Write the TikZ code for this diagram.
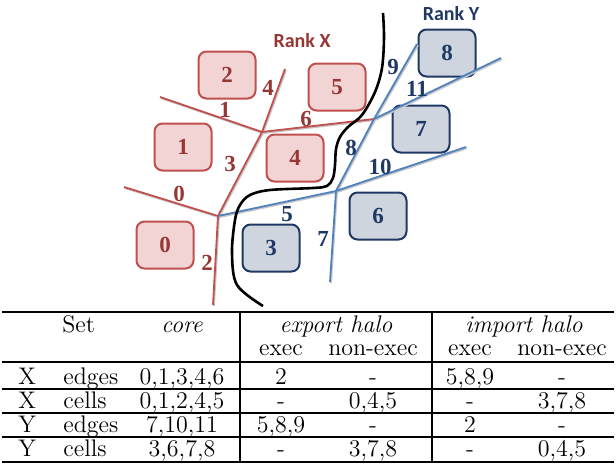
\documentclass[tikz,border=0pt]{standalone}
\usepackage{fontspec}
\newfontfamily\numfont{Liberation Serif}
\newfontfamily\rankfont{Carlito}
\definecolor{xfill}{RGB}{242,212,212}
\definecolor{xborder}{RGB}{192,80,77}
\definecolor{xtext}{RGB}{149,55,53}
\definecolor{yfill}{RGB}{206,213,223}
\definecolor{yborder}{RGB}{31,56,100}
\definecolor{ytext}{RGB}{31,56,100}
\definecolor{yline}{RGB}{79,129,189}
\tikzset{
  cellX/.style={draw=xborder, fill=xfill, line width=1pt, rounded corners=4pt,
    minimum width=28.5pt, minimum height=23.5pt, inner sep=0pt,
    font=\numfont\bfseries\fontsize{11.5}{11.5}\selectfont, text=xtext},
  cellY/.style={cellX, draw=yborder, fill=yfill, text=ytext},
  edgeX/.style={draw=xborder, line width=0.9pt,
    preaction={draw=black!22, line width=0.9pt, transform canvas={shift={(0.5pt,-0.6pt)}}}},
  edgeY/.style={edgeX, draw=yline},
  elabX/.style={font=\numfont\bfseries\fontsize{11.5}{11.5}\selectfont, text=xtext, inner sep=0pt},
  elabY/.style={elabX, text=ytext},
  rank/.style={font=\rankfont\bfseries\fontsize{10}{10}\selectfont, inner sep=0pt},
  tb/.style={font=\fontsize{12}{12}\selectfont, inner sep=0pt, anchor=base},
  tbl/.style={tb, anchor=base west},
  rule/.style={line width=0.6pt},
  thickrule/.style={line width=1pt},
}
\begin{document}
\begin{tikzpicture}[x=0.5pt,y=-0.5pt]
\useasboundingbox (0,0) rectangle (616,466);

% cells
\node[cellX] (c2) at (227,75) {2};
\node[cellX] (c1) at (183,147) {1};
\node[cellX] (c4) at (295,158) {4};
\node[cellX] (c5) at (337,87) {5};
\node[cellX] (c0) at (165,245) {0};
\node[cellY] (c3) at (271,248) {3};
\node[cellY] (c6) at (378,216) {6};
\node[cellY] (c7) at (421,129) {7};
\node[cellY] (c8) at (447,53) {8};

% vertices
\coordinate (A) at (262,132);
\coordinate (B) at (374,119);
\coordinate (C) at (218,216);
\coordinate (D) at (336,191);
\coordinate (e1) at (160,97);
\coordinate (e4) at (285,69);
\coordinate (e0) at (124,187);
\coordinate (e2) at (213,305);
\coordinate (e7) at (330,282);
\coordinate (e9) at (417,44);
\coordinate (e11) at (501,58);
\coordinate (e10) at (466,147);

% red edges
\draw[edgeX] (e1) -- (A);
\draw[edgeX] (A) -- (e4);
\draw[edgeX] (A) -- (B);
\draw[edgeX] (A) -- (C);
\draw[edgeX] (e0) -- (C);
\draw[edgeX] (C) -- (e2);
% blue edges
\draw[edgeY] (C) -- (D);
\draw[edgeY] (D) -- (e7);
\draw[edgeY] (D) -- (B);
\draw[edgeY] (B) -- (e9);
\draw[edgeY] (B) -- (e11);
\draw[edgeY] (D) -- (e10);

% partition curve
\draw[line width=1.3pt] plot[smooth, tension=0.55] coordinates {
  (383,13) (384,38) (382,68) (375,92) (362,115) (348,127) (340,137)
  (336,149) (335,165) (333,178) (327,186) (313,188) (270,190) (250,195)
  (240,205) (235,220) (232,253) (237,285) (263,306)};

% edge labels
\node[elabX] (l1) at (225,110) {1};
\node[elabX] (l4) at (268,88) {4};
\node[elabX] (l6) at (306,119) {6};
\node[elabX] (l3) at (230,164) {3};
\node[elabX] (l0) at (179,194) {0};
\node[elabX] (l2) at (207,263) {2};
\node[elabY] (l5) at (287,214) {5};
\node[elabY] (l7) at (323,239) {7};
\node[elabY] (l8) at (351,148) {8};
\node[elabY] (l9) at (393,67) {9};
\node[elabY] (l11) at (417,89) {11};
\node[elabY] (l10) at (380,167) {10};

\node[rank, text=xtext] (rx) at (302,41) {Rank X};
\node[rank, text=ytext] (ry) at (451,14) {Rank Y};

% table rules
\draw[thickrule] (2,312) -- (614,312);
\draw[rule] (2,362) -- (614,362);
\draw[rule] (2,389) -- (614,389);
\draw[rule] (2,413) -- (614,413);
\draw[rule] (2,437) -- (614,437);
\draw[thickrule] (2,462) -- (614,462);
\draw[rule] (240,312) -- (240,462);
\draw[rule] (432,312) -- (432,462);

% header
\node[tbl] (hset) at (62,332) {Set};
\node[tb] (hcore) at (182,332) {\itshape core};
\node[tb] (hexp) at (336,332) {\itshape export halo};
\node[tb] (himp) at (524,332) {\itshape import halo};
\node[tb] (h1) at (281,355) {exec};
\node[tb] (h2) at (373,355) {non-exec};
\node[tb] (h3) at (470,355) {exec};
\node[tb] (h4) at (562,355) {non-exec};

% rows
\node[tbl] at (18,384) {X};
\node[tbl] at (63,384) {edges};
\node[tb] at (182,384) {0,1,3,4,6};
\node[tb] at (281,384) {2};
\node[tb] at (373,384) {-};
\node[tb] at (470,384) {5,8,9};
\node[tb] at (562,384) {-};

\node[tbl] at (18,408) {X};
\node[tbl] at (63,408) {cells};
\node[tb] at (182,408) {0,1,2,4,5};
\node[tb] at (281,408) {-};
\node[tb] at (373,408) {0,4,5};
\node[tb] at (470,408) {-};
\node[tb] at (562,408) {3,7,8};

\node[tbl] at (18,432) {Y};
\node[tbl] at (63,432) {edges};
\node[tb] at (182,432) {7,10,11};
\node[tb] at (281,432) {5,8,9};
\node[tb] at (373,432) {-};
\node[tb] at (470,432) {2};
\node[tb] at (562,432) {-};

\node[tbl] at (18,456) {Y};
\node[tbl] at (63,456) {cells};
\node[tb] at (182,456) {3,6,7,8};
\node[tb] at (281,456) {-};
\node[tb] at (373,456) {3,7,8};
\node[tb] at (470,456) {-};
\node[tb] at (562,456) {0,4,5};
\end{tikzpicture}
\end{document}
